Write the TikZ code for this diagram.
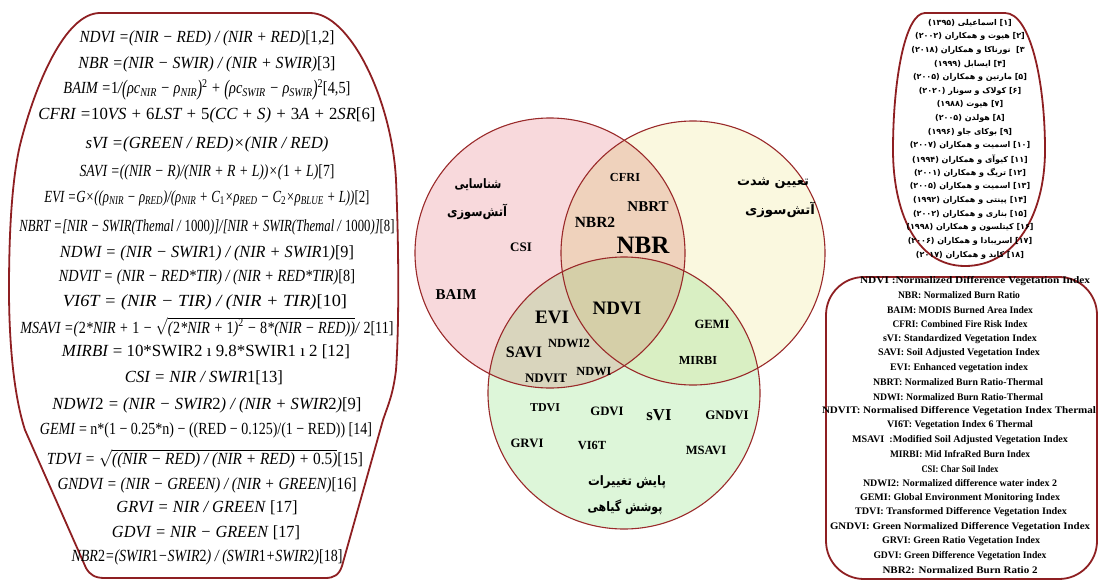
\documentclass[tikz,border=0pt]{standalone}
\usepackage{fontspec}
\usepackage{graphicx}
\setmainfont{Liberation Serif}
\newfontfamily\fa[Script=Arabic]{DejaVu Sans}
\TeXXeTstate=1
\definecolor{panelred}{HTML}{8E1F22}
\definecolor{vennred}{HTML}{9A2A2A}
\definecolor{cA}{HTML}{F8D9DC}
\definecolor{cB}{HTML}{FAF8DF}
\definecolor{cC}{HTML}{DDF6D9}
\definecolor{cAB}{HTML}{EFD2BC}
\definecolor{cAC}{HTML}{D9D5BD}
\definecolor{cBC}{HTML}{D9EFC3}
\definecolor{cABC}{HTML}{D5CFA8}
\newcommand\fw[2]{\resizebox{#1pt}{\height}{#2}}
\newcommand\sbs[1]{\textsubscript{#1}}
\newcommand\sps[1]{\textsuperscript{#1}}
\newcommand\bigp[1]{\raisebox{-0.1em}{\scalebox{1}[1.3]{#1}}}
\newcommand\rtl[1]{\beginR #1\endR}
\newcommand\fs[1]{\fontsize{#1}{#1}\selectfont}
\newcommand\rsq[1]{$\sqrt{\vphantom{I}\smash{\mbox{#1}}}$}
\begin{document}
\begin{tikzpicture}[x=1pt,y=-1pt,
  panel/.style={draw=panelred, line width=1.8pt},
  venn/.style={draw=vennred, line width=1.1pt},
  fml/.style={inner sep=0pt, font=\fs{17}\itshape},
  refl/.style={inner sep=0pt, font=\fa\bfseries\fs{8}},
  abbr/.style={inner sep=0pt, font=\bfseries\fs{10}},
  vl/.style={inner sep=0pt, font=\bfseries},
  fal/.style={inner sep=0pt, font=\fa\bfseries\fs{13}}]
\useasboundingbox (0,0) rectangle (1099,581);
\fill[white] (0,0) rectangle (1099,581);

% ---------- Venn fills ----------
\coordinate (cA) at (550,253);
\coordinate (cB) at (693,253);
\coordinate (cC) at (624,393);
\fill[cA] (cA) circle (135pt);
\fill[cB] (cB) circle (132pt);
\fill[cC] (cC) circle (136pt);
\begin{scope}\clip (cA) circle (135pt); \fill[cAB] (cB) circle (132pt); \fill[cAC] (cC) circle (136pt); \end{scope}
\begin{scope}\clip (cB) circle (132pt); \fill[cBC] (cC) circle (136pt); \end{scope}
\begin{scope}\clip (cA) circle (135pt); \clip (cB) circle (132pt); \fill[cABC] (cC) circle (136pt); \end{scope}
\draw[venn] (cA) circle (135pt);
\draw[venn] (cB) circle (132pt);
\draw[venn] (cC) circle (136pt);

% ---------- Venn labels ----------
\node[fal] (pA1) at (478,185) {\fw{47}{\rtl{شناسایی}}};
\node[fal] (pA2) at (477,212) {\fw{60}{\rtl{آتش‌سوزی}}};
\node[fal] (pB1) at (773,183) {\fw{72}{\rtl{تعیین شدت}}};
\node[fal] (pB2) at (780,210) {\fw{70}{\rtl{آتش‌سوزی}}};
\node[fal] (pC1) at (627,482) {\fw{78}{\rtl{پایش تغییرات}}};
\node[fal] (pC2) at (625,507) {\fw{75}{\rtl{پوشش گیاهی}}};

\node[vl, font=\bfseries\fs{12.3}] (lcfri) at (625,177) {CFRI};
\node[vl, font=\bfseries\fs{15}] (lnbrt) at (648,207) {NBRT};
\node[vl, font=\bfseries\fs{15.5}] (lnbr2) at (595,222) {NBR2};
\node[vl, font=\bfseries\fs{25}] (lnbr) at (643,245) {NBR};
\node[vl, font=\bfseries\fs{13}] (lcsi) at (521,247) {CSI};
\node[vl, font=\bfseries\fs{15}] (lbaim) at (456,295) {BAIM};
\node[vl, font=\bfseries\fs{19}] (lndvi) at (617,308) {NDVI};
\node[vl, font=\bfseries\fs{19}] (levi) at (552,317) {EVI};
\node[vl, font=\bfseries\fs{12.6}] (lgemi) at (712,324) {GEMI};
\node[vl, font=\bfseries\fs{12.5}] (lndwi2) at (569,343) {NDWI2};
\node[vl, font=\bfseries\fs{16}] (lsavi) at (524,352) {SAVI};
\node[vl, font=\bfseries\fs{13}] (lndvit) at (546,378) {NDVIT};
\node[vl, font=\bfseries\fs{12.4}] (lndwi) at (594,372) {NDWI};
\node[vl, font=\bfseries\fs{12.3}] (lmirbi) at (698,360) {MIRBI};
\node[vl, font=\bfseries\fs{12}] (ltdvi) at (545,408) {TDVI};
\node[vl, font=\bfseries\fs{12.8}] (lgdvi) at (607,411) {GDVI};
\node[vl, font=\bfseries\fs{16.7}] (lsvi) at (659,415) {sVI};
\node[vl, font=\bfseries\fs{13}] (lgndvi) at (727,415) {GNDVI};
\node[vl, font=\bfseries\fs{12.8}] (lgrvi) at (527,443) {GRVI};
\node[vl, font=\bfseries\fs{12.4}] (lvi6t) at (592,445) {VI6T};
\node[vl, font=\bfseries\fs{12.6}] (lmsavi) at (706,450) {MSAVI};

% ---------- Left panel ----------
\draw[panel] (100,13) -- (310,13)
 .. controls (350,13) and (392,100) .. (396,180)
 .. controls (399,250) and (399,330) .. (396,370)
 .. controls (393,395) and (388,405) .. (383,420)
 -- (342,566)
 .. controls (339,575) and (334,578) .. (325,578)
 -- (105,578)
 .. controls (95,578) and (90,575) .. (86,568)
 -- (25,430)
 .. controls (12,390) and (9,330) .. (9,290)
 .. controls (9,230) and (12,180) .. (20,145)
 .. controls (35,85) and (65,13) .. (100,13) -- cycle;

\node[fml] (f1) at (207,38) {\fw{255}{NDVI =(NIR − RED) / (NIR + RED)\textup{[1,2]}}};
\node[fml] (f2) at (207,64) {\fw{257}{NBR =(NIR − SWIR) / (NIR + SWIR)\textup{[3]}}};
\node[fml] (f3) at (207,90) {\fw{287}{BAIM =\textup{1}/\bigp{(}ρc\sbs{NIR} − ρ\sbs{NIR}\bigp{)}\sps{\textup{2}} + \bigp{(}ρc\sbs{SWIR} − ρ\sbs{SWIR}\bigp{)}\sps{\textup{2}}\textup{[4,5]}}};
\node[fml] (f4) at (207,115) {\fw{337}{CFRI =\textup{10}VS + \textup{6}LST + \textup{5}(CC + S) + \textup{3}A + \textup{2}SR\textup{[6]}}};
\node[fml] (f5) at (207,144) {\fw{243}{sVI =(GREEN / RED)×(NIR / RED)}};
\node[fml] (f6) at (207,172) {\fw{255}{SAVI =((NIR − R)/(NIR + R + L))×(\textup{1} + L)\textup{[7]}}};
\node[fml] (f7) at (207,198) {\fw{325}{EVI =G×((ρ\sbs{NIR} − ρ\sbs{RED})/(ρ\sbs{NIR} + C\sbs{\textup{1}}×ρ\sbs{RED} − C\sbs{\textup{2}}×ρ\sbs{BLUE} + L))\textup{[2]}}};
\node[fml] (f8) at (207,227) {\fw{375}{NBRT =[NIR − SWIR(Themal / \textup{1000})]/[NIR + SWIR(Themal / \textup{1000})]\textup{[8]}}};
\node[fml] (f9) at (207,253) {\fw{294}{NDWI = (NIR − SWIR\textup{1}) / (NIR + SWIR\textup{1})\textup{[9]}}};
\node[fml] (f10) at (207,277) {\fw{296}{NDVIT = (NIR − RED*TIR) / (NIR + RED*TIR)\textup{[8]}}};
\node[fml] (f11) at (205,302) {\fw{284}{VI6T = (NIR − TIR) / (NIR + TIR)\textup{[10]}}};
\node[fml] (f12) at (207,327) {\fw{373}{MSAVI =(\textup{2}*NIR + \textup{1} − \rsq{(\textup{2}*NIR + \textup{1})\sps{\textup{2}} − \textup{8}*(NIR − RED))}/ \textup{2[11]}}};
\node[fml] (f13) at (206,352) {\fw{288}{MIRBI \textup{= 10*SWIR2 ı 9.8*SWIR1 ı 2 [12]}}};
\node[fml] (f14) at (204,378) {\fw{158}{CSI = NIR / SWIR\textup{1[13]}}};
\node[fml] (f15) at (207,405) {\fw{309}{NDWI\textup{2} = (NIR − SWIR\textup{2}) / (NIR + SWIR\textup{2})\textup{[9]}}};
\node[fml] (f16) at (206,430) {\fw{332}{GEMI \textup{= n*(1 − 0.25*n) − ((RED − 0.125)/(1 − RED)) [14]}}};
\node[fml] (f17) at (205,458) {\fw{316}{TDVI = \rsq{((NIR − RED) / (NIR + RED) + \textup{0.5})}\textup{[15]}}};
\node[fml] (f18) at (207,485) {\fw{299}{GNDVI = (NIR − GREEN) / (NIR + GREEN)\textup{[16]}}};
\node[fml] (f19) at (207,508) {\fw{181}{GRVI = NIR / GREEN \textup{[17]}}};
\node[fml] (f20) at (206,533) {\fw{188}{GDVI = NIR − GREEN \textup{[17]}}};
\node[fml] (f21) at (207,557) {\fw{271}{NBR\textup{2}=(SWIR\textup{1}−SWIR\textup{2}) / (SWIR\textup{1}+SWIR\textup{2})\textup{[18]}}};

% ---------- Top-right reference panel ----------
\draw[panel] (925,13) -- (1005,13)
 .. controls (1030,13) and (1045,80) .. (1045,150)
 .. controls (1045,215) and (1015,266) .. (965,266)
 .. controls (915,266) and (893,210) .. (893,150)
 .. controls (893,80) and (905,13) .. (925,13) -- cycle;
\node[refl] (r1) at (970,23.0) {\beginR [۱] اسماعیلی (۱۳۹۵)\endR};
\node[refl] (r2) at (970,36.6) {\beginR [۲] هیوت و همکاران (۲۰۰۲)\endR};
\node[refl] (r3) at (968,50.3) {\beginR ۳]\ \ نورناکا و همکاران (۲۰۱۸)\endR};
\node[refl] (r4) at (970,63.9) {\beginR [۴] ایسابل (۱۹۹۹)\endR};
\node[refl] (r5) at (970,77.6) {\beginR [۵] مارتین و همکاران (۲۰۰۵)\endR};
\node[refl] (r6) at (970,91.2) {\beginR [۶] کولاک و سونار (۲۰۲۰)\endR};
\node[refl] (r7) at (970,104.9) {\beginR [۷] هیوت (۱۹۸۸)\endR};
\node[refl] (r8) at (970,118.5) {\beginR [۸] هولدن (۲۰۰۵)\endR};
\node[refl] (r9) at (970,132.2) {\beginR [۹] بوکای جاو (۱۹۹۶)\endR};
\node[refl] (r10) at (970,145.8) {\beginR [۱۰] اسمیت و همکاران (۲۰۰۷)\endR};
\node[refl] (r11) at (970,159.5) {\beginR [۱۱] کیوآی و همکاران (۱۹۹۴)\endR};
\node[refl] (r12) at (970,173.1) {\beginR [۱۲] تریگ و همکاران (۲۰۰۱)\endR};
\node[refl] (r13) at (970,186.8) {\beginR [۱۳] اسمیت و همکاران (۲۰۰۵)\endR};
\node[refl] (r14) at (970,200.4) {\beginR [۱۴] پینتی و همکاران (۱۹۹۲)\endR};
\node[refl] (r15) at (970,214.1) {\beginR [۱۵] بناری و همکاران (۲۰۰۲)\endR};
\node[refl] (r16) at (970,227.7) {\beginR [۱۶] کیتلسون و همکاران (۱۹۹۸)\endR};
\node[refl] (r17) at (970,241.4) {\beginR [۱۷] اسریبادا و همکاران (۲۰۰۶)\endR};
\node[refl] (r18) at (970,255.0) {\beginR [۱۸] کاید و همکاران (۲۰۱۷)\endR};

% ---------- Bottom-right abbreviation panel ----------
\draw[panel, rounded corners=38pt] (826,277) rectangle (1097,579);
\node[abbr] (a1) at (975,281.0) {\fw{230}{NDVI :Normalized Difference Vegetation Index}};
\node[abbr] (a2) at (959,295.5) {\fw{122}{NBR: Normalized Burn Ratio}};
\node[abbr] (a3) at (960,309.9) {\fw{146}{BAIM: MODIS Burned Area Index}};
\node[abbr] (a4) at (960,324.4) {\fw{135}{CFRI: Combined Fire Risk Index}};
\node[abbr] (a5) at (960,338.8) {\fw{154}{sVI: Standardized Vegetation Index}};
\node[abbr] (a6) at (959,353.3) {\fw{162}{SAVI: Soil Adjusted Vegetation Index}};
\node[abbr] (a7) at (959,367.7) {\fw{138}{EVI: Enhanced vegetation index}};
\node[abbr] (a8) at (958,382.2) {\fw{170}{NBRT: Normalized Burn Ratio-Thermal}};
\node[abbr] (a9) at (958,396.6) {\fw{170}{NDWI: Normalized Burn Ratio-Thermal}};
\node[abbr] (a10) at (959,411.1) {\fw{274}{NDVIT: Normalised Difference Vegetation Index Thermal}};
\node[abbr] (a11) at (960,425.5) {\fw{146}{VI6T: Vegetation Index 6 Thermal}};
\node[abbr] (a12) at (960,440.0) {\fw{216}{MSAVI\ \ :Modified Soil Adjusted Vegetation Index}};
\node[abbr] (a13) at (960,454.4) {\fw{140}{MIRBI: Mid InfraRed Burn Index}};
\node[abbr] (a14) at (960,468.9) {\fw{77}{CSI: Char Soil Index}};
\node[abbr] (a15) at (960,483.3) {\fw{194}{NDWI2: Normalized difference water index 2}};
\node[abbr] (a16) at (960,497.8) {\fw{200}{GEMI: Global Environment Monitoring Index}};
\node[abbr] (a17) at (961,512.2) {\fw{212}{TDVI: Transformed Difference Vegetation Index}};
\node[abbr] (a18) at (960,526.7) {\fw{260}{GNDVI: Green Normalized Difference Vegetation Index}};
\node[abbr] (a19) at (961,541.1) {\fw{158}{GRVI: Green Ratio Vegetation Index}};
\node[abbr] (a20) at (960,555.6) {\fw{173}{GDVI: Green Difference Vegetation Index}};
\node[abbr] (a21) at (960,570.0) {\fw{155}{NBR2: Normalized Burn Ratio 2}};
\end{tikzpicture}
\end{document}
